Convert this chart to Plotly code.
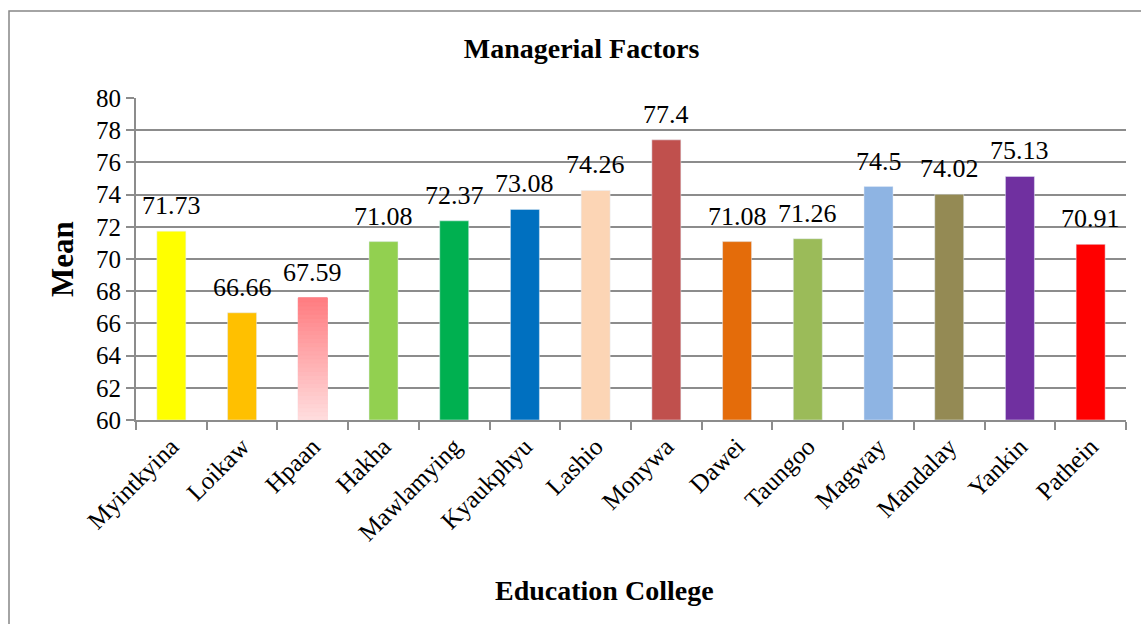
import plotly.graph_objects as go

colleges = ["Myintkyina", "Loikaw", "Hpaan", "Hakha", "Mawlamying", "Kyaukphyu", "Lashio",
            "Monywa", "Dawei", "Taungoo", "Magway", "Mandalay", "Yankin", "Pathein"]
means = [71.73, 66.66, 67.59, 71.08, 72.37, 73.08, 74.26, 77.4, 71.08, 71.26, 74.5, 74.02, 75.13, 70.91]
colors = ["#FFFF00", "#FFC000", "#FF7C80", "#92D050", "#00B050", "#0070C0", "#FCD5B5",
          "#C0504D", "#E46C0A", "#9BBB59", "#8EB4E3", "#948A54", "#7030A0", "#FF0000"]
y_ticks = [60, 62, 64, 66, 68, 70, 72, 74, 76, 78, 80]

FONT = "Liberation Serif"
GRID = "#8c8c8c"
BAR_W = 0.41
Y0 = 60

fig = go.Figure()
fig.add_trace(go.Bar(x=colleges, y=[m - Y0 for m in means], base=Y0, marker_color=colors,
                     width=BAR_W, hoverinfo="skip", showlegend=False))

# gradient overlay for the Hpaan bar (rose -> pale pink)
gi = colleges.index("Hpaan")
n_seg = 30
top_rgb = (255, 124, 128)
bot_rgb = (255, 222, 223)
seg_h = (means[gi] - Y0) / n_seg
seg_bases, seg_cols = [], []
for k in range(n_seg):
    t = (k + 0.5) / n_seg
    c = tuple(round(b + (tp - b) * t) for b, tp in zip(bot_rgb, top_rgb))
    seg_bases.append(Y0 + k * seg_h)
    seg_cols.append("rgb(%d,%d,%d)" % c)
fig.add_trace(go.Bar(x=[colleges[gi]] * n_seg, y=[seg_h] * n_seg, base=seg_bases,
                     marker=dict(color=seg_cols, line=dict(width=1, color=seg_cols)), width=BAR_W,
                     hoverinfo="skip", showlegend=False))

annotations = []
for c, m in zip(colleges, means):
    annotations.append(dict(x=c, y=m, xref="x", yref="y", text=str(m), showarrow=False,
                            yanchor="bottom", yshift=9,
                            font=dict(family=FONT, size=26, color="#000000")))

annotations.append(dict(x=62, y=259, xref="paper", yref="paper", text="<b>Mean</b>",
                        showarrow=False, textangle=-90, xanchor="center", yanchor="middle",
                        font=dict(family=FONT, size=31, color="#000000")))
annotations.append(dict(x=604, y=590, xref="paper", yref="paper", text="<b>Education College</b>",
                        showarrow=False, xanchor="center", yanchor="middle",
                        font=dict(family=FONT, size=28, color="#000000")))

L, R, T, B = 136, 1126, 98, 420
for a in annotations[-2:]:
    a["x"] = (a["x"] - L) / (R - L)
    a["y"] = (B - a["y"]) / (B - T)

fig.update_layout(
    width=1141, height=624,
    margin=dict(l=L, r=1141 - R, t=T, b=624 - B),
    paper_bgcolor="white", plot_bgcolor="white",
    barmode="overlay",
    font=dict(family=FONT, color="#000000"),
    title=dict(text="<b>Managerial Factors</b>", x=581.5 / 1141, y=1 - 48 / 624,
               xanchor="center", yanchor="middle", xref="container", yref="container",
               font=dict(family=FONT, size=28, color="#000000")),
    annotations=annotations,
    xaxis=dict(type="category", tickson="boundaries", ticks="outside", ticklen=8,
               tickcolor=GRID, tickwidth=1.5, showline=True, linecolor=GRID, linewidth=2,
               tickangle=-45, showgrid=False,
               tickfont=dict(family=FONT, size=25, color="#000000")),
    yaxis=dict(range=[60, 80], tickvals=y_ticks, ticks="outside", ticklen=8,
               tickcolor=GRID, tickwidth=1.5, showline=True, linecolor=GRID, linewidth=2,
               showgrid=True, gridcolor=GRID, gridwidth=1.5, zeroline=False,
               tickfont=dict(family=FONT, size=25, color="#000000")),
    shapes=[dict(type="rect", xref="paper", yref="paper",
                 x0=(9 - L) / (R - L), x1=(1200 - L) / (R - L),
                 y0=(B - 700) / (B - T), y1=(B - 11) / (B - T),
                 line=dict(color="#878787", width=1.5), fillcolor="rgba(0,0,0,0)", layer="below")],
)

fig.write_html("out.html")
